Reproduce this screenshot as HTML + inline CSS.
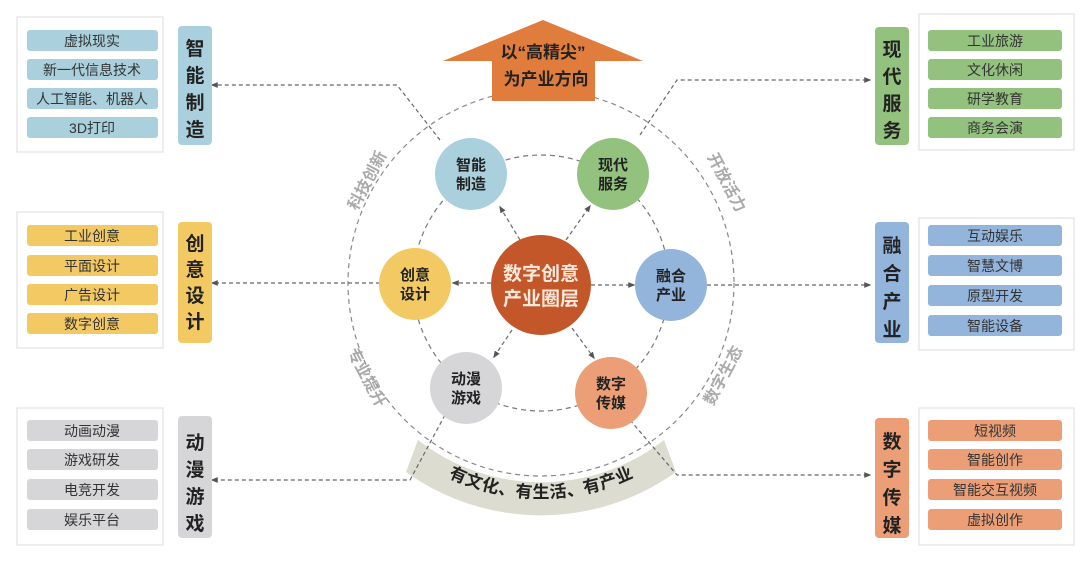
<!DOCTYPE html>
<html><head><meta charset="utf-8"><style>
body{margin:0;background:#fff;}
svg{display:block;font-family:"Liberation Sans","Noto Sans CJK SC",sans-serif;font-weight:bold;}
</style></head><body>
<svg width="1080" height="563" viewBox="0 0 1080 563" xmlns="http://www.w3.org/2000/svg">
<defs>
<marker id="ar" viewBox="0 0 10 10" refX="8" refY="5" markerWidth="6" markerHeight="6" orient="auto-start-reverse"><path d="M0,1 L10,5 L0,9 z" fill="#555"/></marker>
<path id="band" d="M 392 430 A 210 210 0 0 0 690 430"/>
</defs>
<rect width="1080" height="563" fill="#fff"/>
<circle cx="541" cy="283" r="193" fill="none" stroke="#888" stroke-width="1.2" stroke-dasharray="5,4"/>
<circle cx="541" cy="283" r="128" fill="none" stroke="#777" stroke-width="1.2" stroke-dasharray="5,4"/>
<path d="M 418 440 A 200 200 0 0 0 664 440 L 676 472 A 232 232 0 0 1 406 472 Z" fill="#dcdcd0"/>
<text font-size="17" fill="#222" dy="6"><textPath href="#band" startOffset="50%" text-anchor="middle">有文化、有生活、有产业</textPath></text>
<g font-size="16" fill="#aaa">
<text transform="translate(372,183) rotate(-62)" text-anchor="middle">科技创新</text>
<text transform="translate(722,185) rotate(62)" text-anchor="middle">开放活力</text>
<text transform="translate(362,380) rotate(62)" text-anchor="middle">专业提升</text>
<text transform="translate(728,378) rotate(-62)" text-anchor="middle">数字生态</text>
</g>
<g fill="none" stroke="#666" stroke-width="1.2" stroke-dasharray="4,3">
<polyline points="440,140 397,85 212,85" marker-end="url(#ar)"/>
<polyline points="640,135 677,80 870,80" marker-end="url(#ar)"/>
<line x1="380" y1="283" x2="212" y2="283" marker-end="url(#ar)"/>
<line x1="707" y1="285" x2="870" y2="285" marker-end="url(#ar)"/>
<polyline points="445,415 410,480 212,480" marker-end="url(#ar)"/>
<polyline points="630,420 677,475 870,475" marker-end="url(#ar)"/>
<line x1="520" y1="240" x2="500" y2="207" marker-end="url(#ar)"/>
<line x1="566" y1="240" x2="590" y2="206" marker-end="url(#ar)"/>
<line x1="491" y1="283" x2="453" y2="283" marker-end="url(#ar)"/>
<line x1="591" y1="285" x2="634" y2="285" marker-end="url(#ar)"/>
<line x1="512" y1="330" x2="494" y2="357" marker-end="url(#ar)"/>
<line x1="572" y1="328" x2="594" y2="358" marker-end="url(#ar)"/>
</g>
<path d="M543,20 L643,61 L595,61 L595,101 L492,101 L492,61 L443,61 Z" fill="#e07d3c"/>
<text x="543" y="58" font-size="17" fill="#222" text-anchor="middle">以“高精尖”</text>
<text x="546" y="85" font-size="17" fill="#222" text-anchor="middle">为产业方向</text>
<g font-size="15" fill="#222" text-anchor="middle">
<circle cx="471" cy="174" r="36" fill="#a9d0dc"/><text x="471" y="170">智能</text><text x="471" y="189">制造</text>
<circle cx="613" cy="174" r="36" fill="#92c27e"/><text x="613" y="170">现代</text><text x="613" y="189">服务</text>
<circle cx="415" cy="284" r="36" fill="#f3c963"/><text x="415" y="280">创意</text><text x="415" y="299">设计</text>
<circle cx="671" cy="285" r="36" fill="#93b5dc"/><text x="671" y="281">融合</text><text x="671" y="300">产业</text>
<circle cx="466" cy="388" r="36" fill="#d6d6d8"/><text x="466" y="384">动漫</text><text x="466" y="403">游戏</text>
<circle cx="611" cy="393" r="36" fill="#ec9f76"/><text x="611" y="389">数字</text><text x="611" y="408">传媒</text>
<circle cx="541" cy="285" r="50" fill="#c3572a"/>
<text x="541" y="280" font-size="19" fill="#fbe9dc">数字创意</text><text x="541" y="305" font-size="19" fill="#fbe9dc">产业圈层</text>
</g>
<g font-size="14" text-anchor="middle" fill="#333" font-weight="normal">
<rect x="17" y="17" width="146" height="135" fill="#fff" stroke="#ddd"/>
<rect x="27" y="30" width="131" height="21" rx="3" fill="#a9d0dc"/><text x="92" y="46">虚拟现实</text>
<rect x="27" y="59" width="131" height="21" rx="3" fill="#a9d0dc"/><text x="92" y="75">新一代信息技术</text>
<rect x="27" y="88" width="131" height="21" rx="3" fill="#a9d0dc"/><text x="92" y="104">人工智能、机器人</text>
<rect x="27" y="117" width="131" height="21" rx="3" fill="#a9d0dc"/><text x="92" y="133">3D打印</text>
<rect x="17" y="212" width="146" height="136" fill="#fff" stroke="#ddd"/>
<rect x="27" y="225" width="131" height="21" rx="3" fill="#f3c963"/><text x="92" y="241">工业创意</text>
<rect x="27" y="255" width="131" height="21" rx="3" fill="#f3c963"/><text x="92" y="271">平面设计</text>
<rect x="27" y="284" width="131" height="21" rx="3" fill="#f3c963"/><text x="92" y="300">广告设计</text>
<rect x="27" y="313" width="131" height="21" rx="3" fill="#f3c963"/><text x="92" y="329">数字创意</text>
<rect x="17" y="408" width="146" height="137" fill="#fff" stroke="#ddd"/>
<rect x="27" y="420" width="131" height="21" rx="3" fill="#d6d6d8"/><text x="92" y="436">动画动漫</text>
<rect x="27" y="449" width="131" height="21" rx="3" fill="#d6d6d8"/><text x="92" y="465">游戏研发</text>
<rect x="27" y="479" width="131" height="21" rx="3" fill="#d6d6d8"/><text x="92" y="495">电竞开发</text>
<rect x="27" y="509" width="131" height="21" rx="3" fill="#d6d6d8"/><text x="92" y="525">娱乐平台</text>
<rect x="919" y="14" width="155" height="136" fill="#fff" stroke="#ddd"/>
<rect x="928" y="30" width="134" height="21" rx="3" fill="#92c27e"/><text x="995" y="46">工业旅游</text>
<rect x="928" y="59" width="134" height="21" rx="3" fill="#92c27e"/><text x="995" y="75">文化休闲</text>
<rect x="928" y="88" width="134" height="21" rx="3" fill="#92c27e"/><text x="995" y="104">研学教育</text>
<rect x="928" y="117" width="134" height="21" rx="3" fill="#92c27e"/><text x="995" y="133">商务会演</text>
<rect x="919" y="218" width="155" height="132" fill="#fff" stroke="#ddd"/>
<rect x="928" y="225" width="134" height="21" rx="3" fill="#93b5dc"/><text x="995" y="241">互动娱乐</text>
<rect x="928" y="255" width="134" height="21" rx="3" fill="#93b5dc"/><text x="995" y="271">智慧文博</text>
<rect x="928" y="285" width="134" height="21" rx="3" fill="#93b5dc"/><text x="995" y="301">原型开发</text>
<rect x="928" y="315" width="134" height="21" rx="3" fill="#93b5dc"/><text x="995" y="331">智能设备</text>
<rect x="919" y="408" width="155" height="137" fill="#fff" stroke="#ddd"/>
<rect x="928" y="420" width="134" height="21" rx="3" fill="#ec9f76"/><text x="995" y="436">短视频</text>
<rect x="928" y="449" width="134" height="21" rx="3" fill="#ec9f76"/><text x="995" y="465">智能创作</text>
<rect x="928" y="479" width="134" height="21" rx="3" fill="#ec9f76"/><text x="995" y="495">智能交互视频</text>
<rect x="928" y="509" width="134" height="21" rx="3" fill="#ec9f76"/><text x="995" y="525">虚拟创作</text>
</g>
<g font-size="19" text-anchor="middle" fill="#222">
<rect x="178" y="26" width="34" height="119" rx="4" fill="#a9d0dc"/>
<text x="195" y="55">智</text><text x="195" y="82">能</text><text x="195" y="109">制</text><text x="195" y="136">造</text>
<rect x="178" y="222" width="34" height="121" rx="4" fill="#f3c963"/>
<text x="195" y="250">创</text><text x="195" y="276">意</text><text x="195" y="302">设</text><text x="195" y="328">计</text>
<rect x="178" y="416" width="34" height="122" rx="4" fill="#d6d6d8"/>
<text x="195" y="449">动</text><text x="195" y="476">漫</text><text x="195" y="503">游</text><text x="195" y="530">戏</text>
<rect x="875" y="27" width="34" height="118" rx="4" fill="#92c27e"/>
<text x="892" y="56">现</text><text x="892" y="83">代</text><text x="892" y="110">服</text><text x="892" y="137">务</text>
<rect x="875" y="222" width="34" height="121" rx="4" fill="#93b5dc"/>
<text x="892" y="252">融</text><text x="892" y="280">合</text><text x="892" y="308">产</text><text x="892" y="336">业</text>
<rect x="875" y="418" width="34" height="120" rx="4" fill="#ec9f76"/>
<text x="892" y="448">数</text><text x="892" y="476">字</text><text x="892" y="504">传</text><text x="892" y="532">媒</text>
</g>
</svg>
</body></html>
